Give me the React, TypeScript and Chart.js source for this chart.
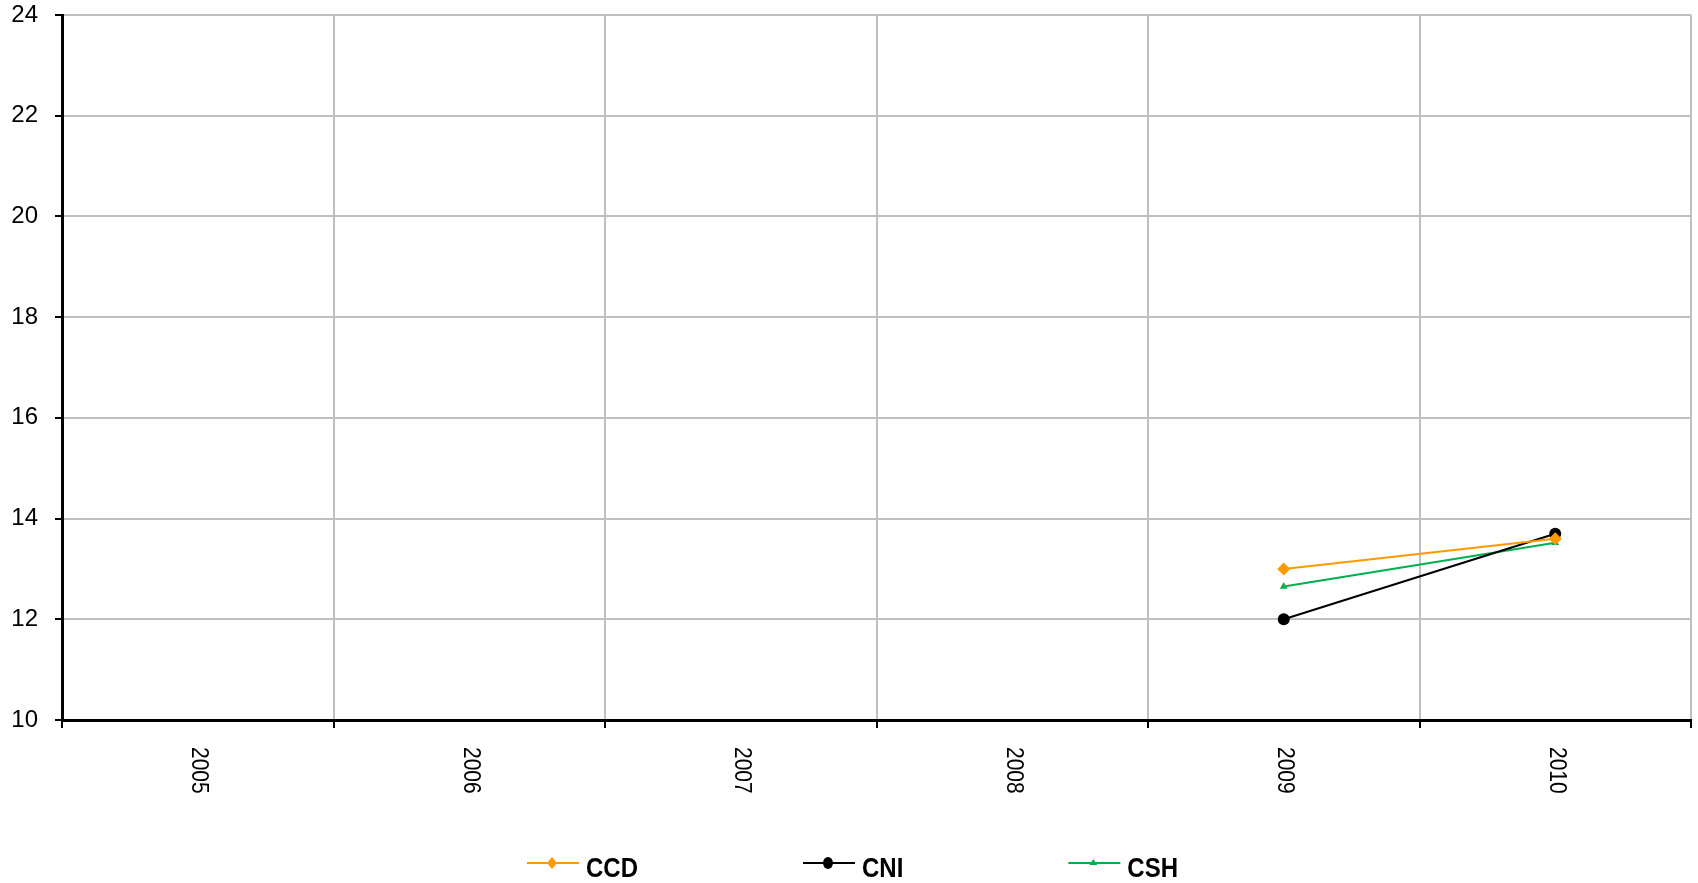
import React, { useEffect, useRef } from "react";
import { Chart, registerables } from "chart.js";

Chart.register(...registerables);

const categories = ["2005", "2006", "2007", "2008", "2009", "2010"];
const ccdValues = [null, null, null, null, 13.0, 13.6];
const cniValues = [null, null, null, null, 12.0, 13.7];
const cshValues = [null, null, null, null, 12.65, 13.52];
const seriesNames = ["CCD", "CNI", "CSH"];
const seriesColors = ["#FF9900", "#000000", "#00B050"];
const seriesMarkers = ["rectRot", "circle", "triangle"];

const FONT = "Arial, 'Liberation Sans', sans-serif";

const xLabelPlugin = {
  id: "xLabels",
  afterDraw(chart: any) {
    const ctx = chart.ctx;
    const xs = chart.scales.x;
    const top = chart.chartArea.bottom + 27;
    ctx.save();
    ctx.fillStyle = "#000";
    ctx.font = "21px " + FONT;
    ctx.textAlign = "left";
    ctx.textBaseline = "middle";
    categories.forEach((c, i) => {
      const x = xs.getPixelForTick(i) + 1;
      ctx.save();
      ctx.translate(x, top);
      ctx.rotate(Math.PI / 2);
      ctx.scale(1, 1.1);
      ctx.fillText(c, 0, 0);
      ctx.restore();
    });
    ctx.restore();
  },
};

const legendPlugin = {
  id: "customLegend",
  afterDraw(chart: any) {
    const ctx = chart.ctx;
    const y = 863;
    let x = 527;
    ctx.save();
    ctx.font = "bold 24px " + FONT;
    ctx.textBaseline = "alphabetic";
    ctx.textAlign = "left";
    seriesNames.forEach((name, i) => {
      const color = seriesColors[i];
      ctx.strokeStyle = color;
      ctx.fillStyle = color;
      ctx.lineWidth = 2;
      ctx.beginPath();
      ctx.moveTo(x, y);
      ctx.lineTo(x + 52, y);
      ctx.stroke();
      const cx = x + 25;
      ctx.beginPath();
      if (seriesMarkers[i] === "rectRot") {
        ctx.moveTo(cx, y - 6);
        ctx.lineTo(cx + 5, y);
        ctx.lineTo(cx, y + 6);
        ctx.lineTo(cx - 5, y);
        ctx.closePath();
      } else if (seriesMarkers[i] === "circle") {
        ctx.ellipse(cx, y, 5, 6, 0, 0, Math.PI * 2);
      } else {
        ctx.moveTo(cx, y - 4);
        ctx.lineTo(cx + 4, y + 2);
        ctx.lineTo(cx - 4, y + 2);
        ctx.closePath();
      }
      ctx.fill();
      ctx.fillStyle = "#000";
      ctx.save();
      ctx.translate(x + 59, 877);
      ctx.scale(1, 1.15);
      ctx.fillText(name, 0, 0);
      ctx.restore();
      const w = ctx.measureText(name).width;
      x = x + 59 + w + 165;
    });
    ctx.restore();
  },
};

export default function App() {
  const ref = useRef<HTMLCanvasElement | null>(null);
  useEffect(() => {
    if (!ref.current) return;
    const mk = (i: number, data: (number | null)[], radius: number) => ({
      label: seriesNames[i],
      data,
      borderColor: seriesColors[i],
      backgroundColor: seriesColors[i],
      borderWidth: 2,
      pointStyle: seriesMarkers[i],
      pointRadius: radius,
      pointBorderWidth: 0,
      pointBackgroundColor: seriesColors[i],
      spanGaps: false,
      tension: 0,
    });
    const chart = new Chart(ref.current, {
      type: "line",
      data: {
        labels: categories,
        datasets: [mk(0, ccdValues, 6.5), mk(1, cniValues, 6), mk(2, cshValues, 4.5)],
      },
      options: {
        responsive: false,
        animation: false,
        layout: { padding: { top: 15, right: 7, bottom: 0, left: 0 } },
        plugins: { legend: { display: false }, tooltip: { enabled: false } },
        scales: {
          x: {
            offset: true,
            grid: { color: "#C0C0C0", lineWidth: 2, offset: true, tickColor: "#000", tickLength: 8, tickWidth: 2 },
            border: { color: "#000", width: 3 },
            ticks: { color: "rgba(0,0,0,0)", font: { size: 20, family: FONT } },
            afterFit: (s: any) => { s.height = 163; s.paddingLeft = 0; s.paddingRight = 0; },
          },
          y: {
            min: 10,
            max: 24,
            ticks: { stepSize: 2, color: "#000", padding: 17, font: { size: 24, family: FONT } },
            grid: { color: "#C0C0C0", lineWidth: 2, tickColor: "#000", tickLength: 7, tickWidth: 2 },
            border: { color: "#000", width: 3 },
            afterFit: (s: any) => { s.width = 62; s.paddingTop = 0; s.paddingBottom = 0; },
          },
        },
      },
      plugins: [xLabelPlugin, legendPlugin],
    });
    return () => chart.destroy();
  }, []);
  return (
    <div style={{ position: "absolute", left: 0, top: 0, width: 1698, height: 883, background: "#fff" }}>
      <canvas ref={ref} width={1698} height={883} />
    </div>
  );
}
